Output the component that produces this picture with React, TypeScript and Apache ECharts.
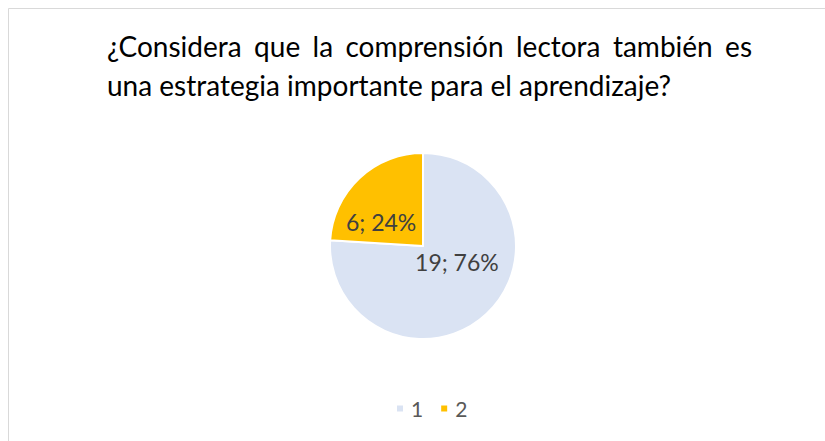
import React, { useEffect, useRef } from "react";
import * as echarts from "echarts";

const categories = ["1", "2"];
const values = [19, 6];
const colors = ["#DAE3F3", "#FFC000"];
const titleLine1 = ["¿Considera", "que", "la", "comprensión", "lectora", "también", "es"];
const titleLine2 = "una estrategia importante para el aprendizaje?";

const FONT = "Lato";
const TITLE_SIZE = 28;

export default function App() {
  const ref = useRef<HTMLDivElement>(null);
  useEffect(() => {
    const el = ref.current!;
    const chart = echarts.init(el, null, { renderer: "svg" });

    const canvas = document.createElement("canvas");
    const ctx = canvas.getContext("2d")!;
    ctx.font = `${TITLE_SIZE}px ${FONT}`;
    const left = 107;
    const right = 752;
    const widths = titleLine1.map((w) => ctx.measureText(w).width);
    const total = widths.reduce((a, b) => a + b, 0);
    const gap = (right - left - total) / (titleLine1.length - 1);
    let cx = left;
    const wordEls: any[] = titleLine1.map((w, i) => {
      const e = {
        type: "text",
        x: cx,
        y: 46,
        style: {
          text: w,
          fontSize: TITLE_SIZE,
          fontFamily: FONT,
          fill: "#000000",
          align: "left",
          verticalAlign: "middle",
        },
      };
      cx += widths[i] + gap;
      return e;
    });

    const labelOffsets = [[0, -20], [-8, 12]];

    chart.setOption({
      animation: false,
      backgroundColor: "#ffffff",
      color: colors,
      graphic: [
        { type: "line", shape: { x1: 8.5, y1: 8.5, x2: 825, y2: 8.5 }, style: { stroke: "#D9D9D9", lineWidth: 1 } },
        { type: "line", shape: { x1: 8.5, y1: 8.5, x2: 8.5, y2: 441 }, style: { stroke: "#D9D9D9", lineWidth: 1 } },
        ...wordEls,
        {
          type: "text",
          x: left,
          y: 85,
          style: {
            text: titleLine2,
            fontSize: TITLE_SIZE,
            fontFamily: FONT,
            fill: "#000000",
            align: "left",
            verticalAlign: "middle",
          },
        },
      ],
      legend: {
        data: categories,
        left: 395,
        top: 398,
        padding: 0,
        itemWidth: 8,
        itemHeight: 8,
        itemGap: 16,
        icon: "rect",
        textStyle: { fontSize: 21, fontFamily: FONT, color: "#595959", padding: [0, 0, 0, 2] },
      },
      series: [
        {
          type: "pie",
          center: [423, 246],
          radius: 93,
          startAngle: 90,
          clockwise: true,
          label: {
            show: true,
            position: "inside",
            formatter: "{c}; {d}%",
            fontSize: 23,
            fontFamily: FONT,
            color: "#404040",
          },
          labelLine: { show: false },
          itemStyle: { borderColor: "#ffffff", borderWidth: 2 },
          emphasis: { disabled: true },
          data: categories.map((c, i) => ({
            name: c,
            value: values[i],
            label: { offset: labelOffsets[i] },
          })),
        },
      ],
    });
    return () => chart.dispose();
  }, []);
  return (
    <div
      ref={ref}
      style={{ position: "fixed", left: 0, top: 0, width: 825, height: 441, background: "#fff" }}
    />
  );
}
